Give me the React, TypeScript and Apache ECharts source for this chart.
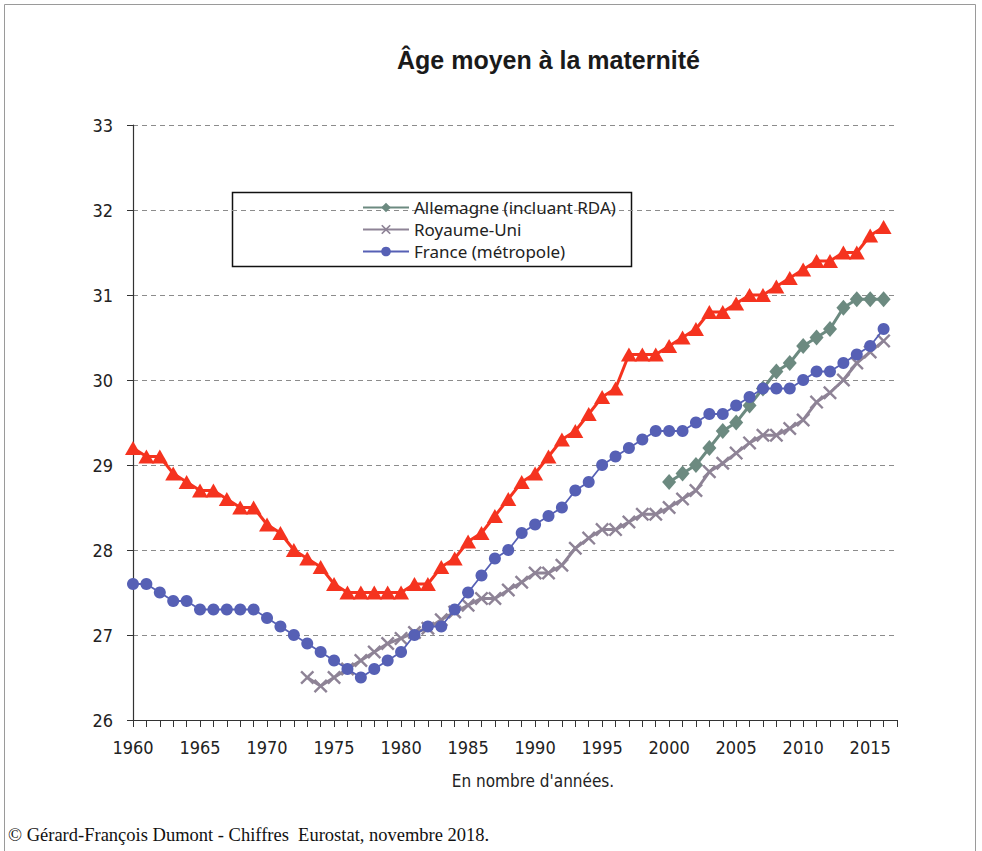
import React, { useEffect, useRef } from "react";
import * as echarts from "echarts";

const years: string[] = [];
for (let y = 1960; y <= 2017; y++) years.push(String(y));

const yTicks = [26, 27, 28, 29, 30, 31, 32, 33];

// Red series (not in legend), 1960-2016
const redStart = 1960;
const redValues = [
  29.2, 29.1, 29.1, 28.9, 28.8, 28.7, 28.7, 28.6, 28.5, 28.5,
  28.3, 28.2, 28.0, 27.9, 27.8, 27.6, 27.5, 27.5, 27.5, 27.5,
  27.5, 27.6, 27.6, 27.8, 27.9, 28.1, 28.2, 28.4, 28.6, 28.8,
  28.9, 29.1, 29.3, 29.4, 29.6, 29.8, 29.9, 30.3, 30.3, 30.3,
  30.4, 30.5, 30.6, 30.8, 30.8, 30.9, 31.0, 31.0, 31.1, 31.2,
  31.3, 31.4, 31.4, 31.5, 31.5, 31.7, 31.8,
];

// France (métropole), 1960-2016
const franceStart = 1960;
const franceValues = [
  27.6, 27.6, 27.5, 27.4, 27.4, 27.3, 27.3, 27.3, 27.3, 27.3,
  27.2, 27.1, 27.0, 26.9, 26.8, 26.7, 26.6, 26.5, 26.6, 26.7,
  26.8, 27.0, 27.1, 27.1, 27.3, 27.5, 27.7, 27.9, 28.0, 28.2,
  28.3, 28.4, 28.5, 28.7, 28.8, 29.0, 29.1, 29.2, 29.3, 29.4,
  29.4, 29.4, 29.5, 29.6, 29.6, 29.7, 29.8, 29.9, 29.9, 29.9,
  30.0, 30.1, 30.1, 30.2, 30.3, 30.4, 30.6,
];

// Royaume-Uni, 1973-2016
const ukStart = 1973;
const ukValues = [
  26.5, 26.4, 26.5, 26.6, 26.7, 26.8, 26.9,
  26.96, 27.03, 27.08, 27.18, 27.27, 27.35, 27.43, 27.43, 27.53, 27.62,
  27.73, 27.73, 27.82, 28.02, 28.14, 28.24, 28.24, 28.33, 28.42, 28.42,
  28.5, 28.6, 28.7, 28.92, 29.02, 29.14, 29.26, 29.35, 29.35, 29.43,
  29.53, 29.74, 29.85, 30.0, 30.2, 30.33, 30.46,
];

// Allemagne (incluant RDA), 2000-2016
const germanyStart = 2000;
const germanyValues = [
  28.8, 28.9, 29.0, 29.2, 29.4, 29.5, 29.7, 29.9, 30.1, 30.2,
  30.4, 30.5, 30.6, 30.85, 30.95, 30.95, 30.95,
];

const seriesNames = {
  red: "Série 4",
  germany: "Allemagne (incluant RDA)",
  uk: "Royaume-Uni",
  france: "France (métropole)",
};

function toData(start: number, values: number[]) {
  return years.map((y) => {
    const i = Number(y) - start;
    return i >= 0 && i < values.length ? values[i] : null;
  });
}

const crossPath =
  "path://M0,1.2 L1.2,0 L5,3.8 L8.8,0 L10,1.2 L6.2,5 L10,8.8 L8.8,10 L5,6.2 L1.2,10 L0,8.8 L3.8,5 Z";

const labelFont = "'Liberation Sans Narrow', 'DejaVu Sans Condensed', 'Noto Sans', sans-serif";
const legendFont = "'Noto Sans', 'Open Sans', sans-serif";

export default function App() {
  const ref = useRef<HTMLDivElement>(null);
  useEffect(() => {
    if (!ref.current) return;
    const chart = echarts.init(ref.current, null, { renderer: "svg" });
    chart.setOption({
      animation: false,
      backgroundColor: "#ffffff",
      title: {
        text: "Âge moyen à la maternité",
        left: 392,
        top: 42,
        textStyle: {
          fontFamily: "'Liberation Sans', Arial, sans-serif",
          fontWeight: "bold",
          fontSize: 25,
          color: "#1a1a1a",
        },
      },
      grid: { left: 133, right: 85, top: 125, bottom: 131, containLabel: false },
      legend: {
        data: [seriesNames.germany, seriesNames.uk, seriesNames.france],
        orient: "vertical",
        left: 357,
        top: 194,
        itemWidth: 46,
        itemHeight: 12,
        itemGap: 5,
        textStyle: { fontFamily: legendFont, fontSize: 17, color: "#222" },
      },
      xAxis: {
        type: "category",
        data: years,
        boundaryGap: false,
        axisLine: { lineStyle: { color: "#333", width: 1.2 } },
        axisTick: { interval: 0, length: 7, lineStyle: { color: "#333" } },
        axisLabel: {
          interval: 4,
          margin: 18,
          fontSize: 18,
          fontFamily: labelFont,
          color: "#222",
        },
        splitLine: { show: false },
      },
      yAxis: {
        type: "value",
        min: 26,
        max: 33,
        interval: 1,
        axisLine: { show: true, lineStyle: { color: "#333", width: 1.2 } },
        axisTick: { show: true, length: 6, lineStyle: { color: "#333" } },
        axisLabel: {
          margin: 20,
          fontSize: 18,
          fontFamily: labelFont,
          color: "#222",
          formatter: (v: number) => (yTicks.includes(v) ? String(v) : ""),
        },
        splitLine: { lineStyle: { color: "#8c8c8c", type: [5, 4], width: 1 } },
      },
      graphic: [
        {
          type: "rect",
          shape: { x: 4.5, y: 4.5, width: 971, height: 860 },
          style: { fill: "none", stroke: "#9a9a9a", lineWidth: 1 },
          silent: true,
        },
        {
          type: "rect",
          shape: { x: 232.5, y: 192.5, width: 399, height: 74 },
          style: { fill: "none", stroke: "#111", lineWidth: 1.5 },
          silent: true,
        },
        {
          type: "text",
          x: 533,
          y: 781,
          style: {
            text: "En nombre d'années.",
            fontFamily: labelFont,
            fontSize: 17,
            fill: "#222",
            textAlign: "center",
            textVerticalAlign: "middle",
          },
        },
        {
          type: "text",
          x: 8,
          y: 835,
          style: {
            text: "© Gérard-François Dumont - Chiffres  Eurostat, novembre 2018.",
            fontFamily: "'Liberation Serif', 'DejaVu Serif', serif",
            fontSize: 18.5,
            fill: "#111",
            textAlign: "left",
            textVerticalAlign: "middle",
          },
        },
      ],
      series: [
        {
          name: seriesNames.red,
          type: "line",
          data: toData(redStart, redValues),
          symbol: "triangle",
          symbolSize: [16, 14],
          showAllSymbol: true,
          lineStyle: { color: "#f5331f", width: 3 },
          itemStyle: { color: "#f5331f" },
          z: 4,
        },
        {
          name: seriesNames.germany,
          type: "line",
          data: toData(germanyStart, germanyValues),
          symbol: "diamond",
          symbolSize: [14, 16],
          showAllSymbol: true,
          lineStyle: { color: "#6c8a80", width: 3 },
          itemStyle: { color: "#6c8a80" },
          z: 3,
        },
        {
          name: seriesNames.uk,
          type: "line",
          data: toData(ukStart, ukValues),
          symbol: crossPath,
          symbolSize: 14,
          showAllSymbol: true,
          lineStyle: { color: "#8e8396", width: 3 },
          itemStyle: { color: "#8e8396" },
          z: 2,
        },
        {
          name: seriesNames.france,
          type: "line",
          data: toData(franceStart, franceValues),
          symbol: "circle",
          symbolSize: 12,
          showAllSymbol: true,
          lineStyle: { color: "#5660b5", width: 1.8 },
          itemStyle: { color: "#5660b5" },
          z: 5,
        },
      ],
    });
    return () => chart.dispose();
  }, []);
  return (
    <div
      ref={ref}
      style={{ position: "absolute", left: 0, top: 0, width: 982, height: 851 }}
    />
  );
}
